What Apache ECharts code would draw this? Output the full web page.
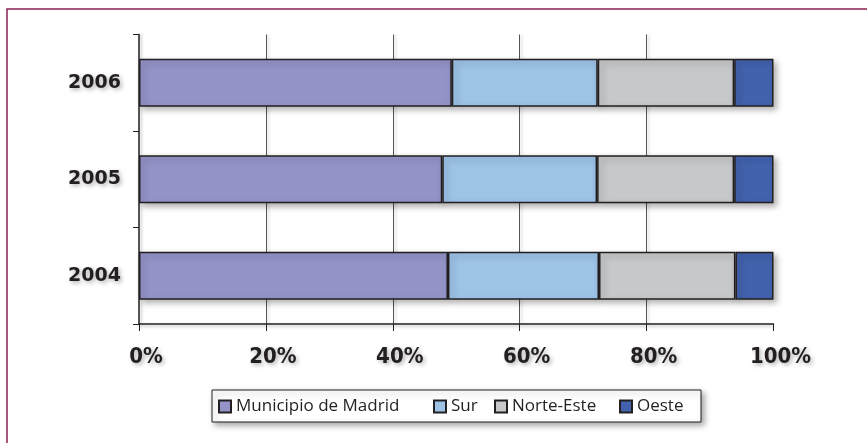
<!DOCTYPE html>
<html>
<head>
<meta charset="utf-8">
<script src="https://cdn.jsdelivr.net/npm/echarts@6/dist/echarts.min.js"></script>
<style>html,body{margin:0;padding:0;background:#fff;}#c{width:867px;height:443px;}</style>
</head>
<body>
<div id="c"></div>
<script>
var years = ['2004', '2005', '2006'];
var seriesNames = ['Municipio de Madrid', 'Sur', 'Norte-Este', 'Oeste'];
var madrid = [48.7, 47.8, 49.3];
var sur = [23.8, 24.4, 23.0];
var norteEste = [21.5, 21.6, 21.5];
var oeste = [6.0, 6.2, 6.2];
var xTicks = [0, 20, 40, 60, 80, 100];

var colors = ['#9393C8', '#9DC3E7', '#C7C8C9', '#4262AD'];
var values = [madrid, sur, norteEste, oeste];
var dark = '#231F20';
var txtShadow = {textShadowColor: 'rgba(0,0,0,0.3)', textShadowBlur: 4, textShadowOffsetX: 2, textShadowOffsetY: 2};

var chart = echarts.init(document.getElementById('c'), null, {renderer: 'canvas'});

var series = seriesNames.map(function (n, i) {
  return {
    name: n,
    type: 'bar',
    stack: 'total',
    barWidth: 48,
    data: values[i],
    itemStyle: {
      color: colors[i],
      borderColor: dark,
      borderWidth: 1.5,
      shadowColor: 'rgba(0,0,0,0.3)',
      shadowBlur: 6,
      shadowOffsetX: 3,
      shadowOffsetY: 3
    },
    emphasis: {disabled: true}
  };
});

var legendLefts = [218, 433, 494, 619];
var legends = seriesNames.map(function (n, i) {
  return {
    data: [n],
    left: legendLefts[i],
    top: 398,
    orient: 'horizontal',
    padding: 0,
    itemWidth: 12,
    itemHeight: 12,
    icon: 'rect',
    selectedMode: false,
    textStyle: {fontFamily: 'Open Sans', fontSize: 17, lineHeight: 16, color: dark}
  };
});

chart.setOption({
  animation: false,
  color: colors,
  graphic: [
    {type: 'rect', z: -10, shape: {x: 7, y: 9, width: 900, height: 500},
     style: {fill: '#fff', stroke: '#8A2050', lineWidth: 1.5}},
    {type: 'rect', z: 1, shape: {x: 212, y: 390, width: 489, height: 32},
     style: {fill: '#fff', stroke: dark, lineWidth: 1,
             shadowColor: 'rgba(0,0,0,0.35)', shadowBlur: 6, shadowOffsetX: 3, shadowOffsetY: 3}}
  ],
  legend: legends,
  grid: {left: 139, right: 93.5, top: 34.5, bottom: 119, containLabel: false},
  xAxis: {
    type: 'value',
    min: xTicks[0],
    max: xTicks[xTicks.length - 1],
    interval: 20,
    axisLine: {show: true, lineStyle: {color: dark, width: 1.5, shadowColor: 'rgba(0,0,0,0.25)', shadowBlur: 3, shadowOffsetY: 2}},
    axisTick: {show: true, length: 7, lineStyle: {color: dark, width: 1}},
    splitLine: {show: true, showMinLine: false, showMaxLine: false,
                lineStyle: {color: '#555', width: 1, shadowColor: 'rgba(0,0,0,0.2)', shadowBlur: 3, shadowOffsetX: 2}},
    axisLabel: Object.assign({
      formatter: '{value}%', margin: 22, padding: [0, 0, 0, 14],
      fontFamily: 'DejaVu Sans Condensed', fontWeight: 'bold', fontSize: 22, color: dark
    }, txtShadow)
  },
  yAxis: {
    type: 'category',
    data: years,
    axisLine: {show: true, lineStyle: {color: dark, width: 1.5, shadowColor: 'rgba(0,0,0,0.25)', shadowBlur: 3, shadowOffsetX: 2}},
    axisTick: {show: true, length: 6, lineStyle: {color: dark, width: 1}},
    splitLine: {show: false},
    axisLabel: Object.assign({
      margin: 18, padding: [3, 0, 0, 0], fontFamily: 'DejaVu Sans', fontWeight: 'bold', fontSize: 19, color: dark
    }, txtShadow)
  },
  series: series
});
</script>
</body>
</html>
